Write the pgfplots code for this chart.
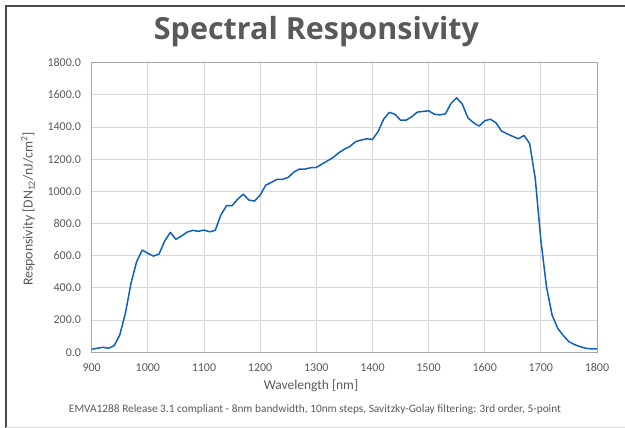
\documentclass[border=0pt]{standalone}
\usepackage{fontspec}
\setmainfont{Carlito}
\newfontfamily\titlefont{Open Sans}
\usepackage{pgfplots}
\pgfplotsset{compat=1.18}
\definecolor{txt}{HTML}{595959}
\definecolor{gridc}{HTML}{D9D9D9}
\definecolor{axisc}{HTML}{A6A6A6}
\definecolor{curve}{HTML}{0F5FBE}
\definecolor{frame}{HTML}{4A4A4A}
\begin{document}
\begin{tikzpicture}
\path[use as bounding box] (-91.7bp,-75.7bp) rectangle (533.3bp,352.3bp);
\begin{axis}[
  at={(0,0)}, anchor=south west,
  scale only axis, width=505.3bp, height=289.6bp,
  xmin=900, xmax=1800, ymin=0, ymax=1800,
  xtick={900,1000,...,1800}, ytick={0,200,...,1800},
  grid=major,
  major grid style={draw=gridc, line width=0.9bp},
  axis line style={draw=axisc, line width=0.9bp},
  tick style={draw=none},
  /pgf/number format/assume math mode=true,
  ticklabel style={font=\fontsize{12bp}{14bp}\selectfont, text=txt, inner sep=0pt},
  xticklabel style={yshift=-11bp, /pgf/number format/1000 sep={}},
  yticklabel style={xshift=-10.5bp, /pgf/number format/.cd, fixed, fixed zerofill, precision=1, 1000 sep={}},
]
\addplot[curve, line width=1.5bp, line join=round] coordinates {
(900,19) (910,25) (920,31) (930,25) (940,41) (950,108) (960,242) (970,429)
(980,563) (990,636) (1000,615) (1010,598) (1020,611) (1030,692) (1040,745)
(1050,702) (1060,723) (1070,747) (1080,758) (1090,752) (1100,760) (1110,749)
(1120,758) (1130,853) (1140,911) (1150,911) (1160,952) (1170,983) (1180,946)
(1190,940) (1200,977) (1210,1039) (1220,1056) (1230,1075) (1240,1075)
(1250,1087) (1260,1120) (1270,1139) (1280,1139) (1290,1147) (1300,1149)
(1310,1170) (1320,1190) (1330,1211) (1340,1240) (1350,1262) (1360,1280)
(1370,1309) (1380,1319) (1390,1327) (1400,1323) (1410,1371) (1420,1449)
(1430,1491) (1440,1480) (1450,1443) (1460,1443) (1470,1464) (1480,1493)
(1490,1497) (1500,1501) (1510,1480) (1520,1476) (1530,1482) (1540,1547)
(1550,1582) (1560,1543) (1570,1458) (1580,1427) (1590,1406) (1600,1439)
(1610,1449) (1620,1427) (1630,1375) (1640,1358) (1650,1342) (1660,1327)
(1670,1348) (1680,1298) (1690,1081) (1700,698) (1710,408) (1720,232)
(1730,149) (1740,104) (1750,66) (1760,48) (1770,35) (1780,25) (1790,21) (1800,21)
};
\end{axis}
\node[text=txt, font=\titlefont\bfseries\fontsize{30.5bp}{35bp}\selectfont] at (224.8bp,320.3bp) {Spectral Responsivity};
\node[text=txt, font=\fontsize{13.5bp}{15bp}\selectfont] at (219.3bp,-33.7bp) {Wavelength [nm]};
\node[text=txt, font=\fontsize{13.8bp}{15bp}\selectfont, rotate=90] at (-63.7bp,143.3bp) {Responsivity [DN\textsubscript{12}/nJ/cm\textsuperscript{2}]};
\node[text=txt, font=\fontsize{11.35bp}{13bp}\selectfont] at (223.3bp,-57.7bp) {EMVA1288 Release 3.1 compliant - 8nm bandwidth, 10nm steps, Savitzky-Golay filtering: 3rd order, 5-point};
\draw[frame, line width=2bp] (-86.7bp,346.3bp) -- (533.3bp,346.3bp);
\draw[frame, line width=2bp] (-85.2bp,347.3bp) -- (-85.2bp,-75.7bp);
\draw[gridc, line width=1bp] (-85.2bp,-74.7bp) -- (533.3bp,-74.7bp);
\end{tikzpicture}
\end{document}
